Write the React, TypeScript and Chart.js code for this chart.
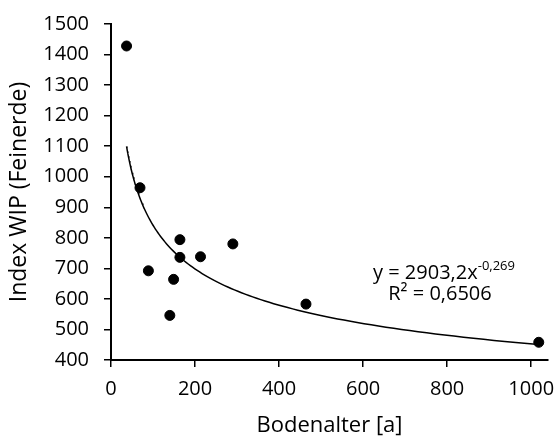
import React, { useEffect, useRef } from "react";
import { Chart, registerables } from "chart.js";

Chart.register(...registerables);

const bodenalter = [37, 69, 89, 140, 149, 164, 164, 213, 290, 464, 1018];
const indexWip = [1428, 964, 692, 546, 664, 794, 736, 738, 780, 583, 458];

const fitA = 2903.2;
const fitB = -0.269;
const fitFrom = 37;
const fitTo = 1018;
const fitSteps = 120;

const xTicks = [0, 200, 400, 600, 800, 1000];
const yMin = 400;
const yMax = 1500;
const yStep = 100;
const xMax = 1040;

const FONT = "'Open Sans', 'DejaVu Sans', sans-serif";

function fitPoints() {
  const pts: { x: number; y: number }[] = [];
  for (let i = 0; i <= fitSteps; i++) {
    const t = i / fitSteps;
    const x = Math.exp(Math.log(fitFrom) + t * (Math.log(fitTo) - Math.log(fitFrom)));
    pts.push({ x, y: fitA * Math.pow(x, fitB) });
  }
  return pts;
}

const equationPlugin = {
  id: "equation",
  afterDraw(chart: any) {
    const ctx = chart.ctx;
    ctx.save();
    ctx.fillStyle = "#000";
    ctx.textBaseline = "alphabetic";
    const main = "y = 2903,2x";
    const sup = "-0,269";
    ctx.font = `20px ${FONT}`;
    const wMain = ctx.measureText(main).width;
    ctx.font = `13px ${FONT}`;
    const wSup = ctx.measureText(sup).width;
    const start = 444 - (wMain + wSup) / 2;
    ctx.font = `20px ${FONT}`;
    ctx.textAlign = "left";
    ctx.fillText(main, start, 279);
    ctx.font = `13px ${FONT}`;
    ctx.fillText(sup, start + wMain, 270);
    ctx.font = `20px ${FONT}`;
    ctx.textAlign = "center";
    ctx.fillText("R² = 0,6506", 440, 300);
    ctx.restore();
  },
};

export default function App() {
  const ref = useRef<HTMLCanvasElement>(null);
  useEffect(() => {
    document.body.style.margin = "0";
    const chart = new Chart(ref.current!, {
      type: "scatter",
      data: {
        datasets: [
          {
            type: "line",
            data: fitPoints(),
            borderColor: "#000",
            borderWidth: 1.5,
            pointRadius: 0,
            fill: false,
            tension: 0,
          } as any,
          {
            data: bodenalter.map((x, i) => ({ x, y: indexWip[i] })),
            backgroundColor: "#000",
            borderColor: "#000",
            pointRadius: 5,
          },
        ],
      },
      options: {
        animation: false,
        responsive: false,
        layout: { padding: { top: 24, right: 7, left: 0, bottom: 0 } },
        plugins: { legend: { display: false }, tooltip: { enabled: false } },
        scales: {
          x: {
            type: "linear",
            min: 0,
            max: xMax,
            afterBuildTicks: (s: any) => {
              s.ticks = xTicks.map((v) => ({ value: v }));
            },
            afterFit: (s: any) => {
              s.height = 79;
              s.paddingLeft = 0;
              s.paddingRight = 0;
            },
            grid: { drawOnChartArea: false, drawTicks: true, tickLength: 7, color: "#000", lineWidth: 1.5 },
            border: { color: "#000", width: 2 },
            ticks: {
              color: "#000",
              font: { family: FONT, size: 20 },
              padding: 10,
              maxRotation: 0,
              callback: (v: any) => String(v),
            },
            title: {
              display: true,
              text: "Bodenalter [a]",
              color: "#000",
              font: { family: FONT, size: 22 },
              padding: { top: 3, bottom: 0 },
            },
          },
          y: {
            type: "linear",
            min: yMin,
            max: yMax,
            ticks: {
              stepSize: yStep,
              color: "#000",
              font: { family: FONT, size: 20 },
              padding: 15,
              callback: (v: any) => String(v),
            },
            afterFit: (s: any) => {
              s.width = 111;
              s.paddingTop = 0;
              s.paddingBottom = 0;
            },
            grid: { drawOnChartArea: false, drawTicks: true, tickLength: 7, color: "#000", lineWidth: 1.5 },
            border: { color: "#000", width: 2 },
            title: {
              display: true,
              text: "Index WIP (Feinerde)",
              color: "#000",
              font: { family: FONT, size: 23 },
              padding: { top: 6, bottom: 0 },
            },
          },
        },
      },
      plugins: [equationPlugin],
    });
    return () => chart.destroy();
  }, []);
  return <canvas ref={ref} width={555} height={439} style={{ display: "block" }} />;
}
